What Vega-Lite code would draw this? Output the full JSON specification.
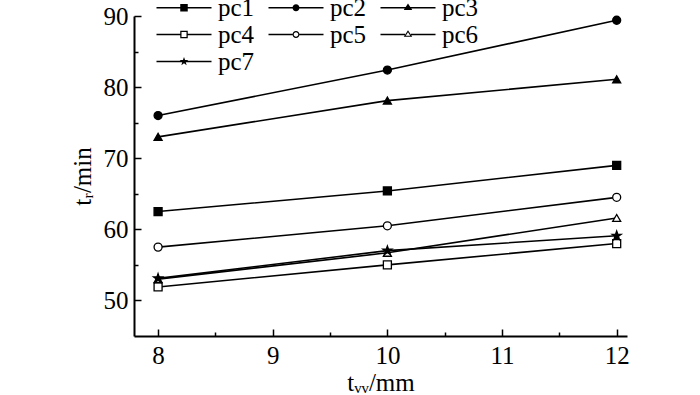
{
  "$schema": "https://vega.github.io/schema/vega-lite/v6.json",
  "width": 493,
  "height": 320,
  "autosize": {"type": "none"},
  "padding": {"left": 134, "top": 16, "right": 73, "bottom": 59},
  "config": {
    "view": {"stroke": null},
    "font": "Liberation Serif",
    "axis": {"grid": false, "domainColor": "black", "domainWidth": 2, "tickColor": "black", "tickWidth": 1.5, "labelColor": "black", "titleColor": "black", "labelFont": "Liberation Serif", "titleFont": "Liberation Serif", "labelFontSize": 25, "titleFontSize": 25, "titleFontWeight": "normal", "labelFlush": false, "labelOverlap": false}
  },
  "data": {
    "values": [
      {"tw": 8, "tr": 62.5, "series": "pc1"}, {"tw": 10, "tr": 65.4, "series": "pc1"}, {"tw": 12, "tr": 69.0, "series": "pc1"},
      {"tw": 8, "tr": 76.0, "series": "pc2"}, {"tw": 10, "tr": 82.4, "series": "pc2"}, {"tw": 12, "tr": 89.4, "series": "pc2"},
      {"tw": 8, "tr": 73.0, "series": "pc3"}, {"tw": 10, "tr": 78.1, "series": "pc3"}, {"tw": 12, "tr": 81.1, "series": "pc3"},
      {"tw": 8, "tr": 51.9, "series": "pc4"}, {"tw": 10, "tr": 55.0, "series": "pc4"}, {"tw": 12, "tr": 58.0, "series": "pc4"},
      {"tw": 8, "tr": 57.5, "series": "pc5"}, {"tw": 10, "tr": 60.5, "series": "pc5"}, {"tw": 12, "tr": 64.5, "series": "pc5"},
      {"tw": 8, "tr": 53.0, "series": "pc6"}, {"tw": 10, "tr": 56.7, "series": "pc6"}, {"tw": 12, "tr": 61.6, "series": "pc6"},
      {"tw": 8, "tr": 53.1, "series": "pc7"}, {"tw": 10, "tr": 57.0, "series": "pc7"}, {"tw": 12, "tr": 59.1, "series": "pc7"}
    ]
  },
  "layer": [
    {
      "mark": {"type": "line", "color": "black", "strokeWidth": 1.6},
      "encoding": {
        "x": {"field": "tw", "type": "quantitative", "scale": {"domain": [7.79, 12.09], "nice": false, "zero": false},
          "axis": {"orient": "bottom", "values": [8, 9, 10, 11, 12], "format": "d", "tickSize": -7, "labelPadding": 14, "title": "tᵥᵥ/mm", "titlePadding": 2}},
        "y": {"field": "tr", "type": "quantitative", "scale": {"domain": [45, 90], "nice": false, "zero": false},
          "axis": {"orient": "left", "values": [50, 60, 70, 80, 90], "format": "d", "tickSize": -7, "labelPadding": 13, "title": "tᵣ/min", "titlePadding": 8}},
        "detail": {"field": "series"}
      }
    },
    {
      "mark": {"type": "point", "stroke": "black", "strokeWidth": 1.3, "opacity": 1, "size": 64},
      "encoding": {
        "x": {"field": "tw", "type": "quantitative", "scale": {"domain": [7.79, 12.09], "nice": false, "zero": false},
          "axis": {"orient": "bottom", "values": [8.5, 9.5, 10.5, 11.5], "tickSize": -4, "labels": false, "domain": false, "title": null}},
        "y": {"field": "tr", "type": "quantitative", "scale": {"domain": [45, 90], "nice": false, "zero": false},
          "axis": {"orient": "left", "values": [55, 65, 75, 85], "tickSize": -4, "labels": false, "domain": false, "title": null}},
        "shape": {"field": "series", "type": "nominal",
          "scale": {"domain": ["pc1", "pc2", "pc3", "pc4", "pc5", "pc6", "pc7"],
            "range": ["square", "circle", "triangle-up", "square", "circle", "triangle-up", "M0,-1.2L0.282,-0.388L1.141,-0.371L0.456,0.148L0.705,0.971L0,0.48L-0.705,0.971L-0.456,0.148L-1.141,-0.371L-0.282,-0.388Z"]},
          "legend": null},
        "fill": {"field": "series", "type": "nominal",
          "scale": {"domain": ["pc1", "pc2", "pc3", "pc4", "pc5", "pc6", "pc7"],
            "range": ["black", "black", "black", "white", "white", "white", "black"]},
          "legend": null}
      }
    },
    {
      "mark": {"type": "point", "stroke": "black", "strokeWidth": 1.5, "size": 0},
      "encoding": {
        "x": {"field": "tw", "type": "quantitative", "scale": {"domain": [7.79, 12.09], "nice": false, "zero": false}, "axis": null},
        "y": {"field": "tr", "type": "quantitative", "scale": {"domain": [45, 90], "nice": false, "zero": false}, "axis": null},
        "fill": {"value": "black"},
        "shape": {"field": "series", "type": "nominal",
          "scale": {"domain": ["pc1", "pc2", "pc3", "pc4", "pc5", "pc6", "pc7"],
            "range": [
              "M-5.5,-0.17H5.5V0.17H-5.5ZM-0.75,-0.75H0.75V0.75H-0.75Z",
              "M-5.5,-0.17H5.5V0.17H-5.5ZM-0.7,0A0.7,0.7,0,1,1,0.7,0A0.7,0.7,0,1,1,-0.7,0Z",
              "M-5.5,-0.17H5.5V0.17H-5.5ZM0,-0.85L0.85,0.45H-0.85Z",
              "M-5.5,-0.17H-0.75V0.17H-5.5ZM0.75,-0.17H5.5V0.17H0.75ZM-0.75,-0.75H0.75V0.75H-0.75ZM-0.5,-0.5V0.5H0.5V-0.5Z",
              "M-5.5,-0.17H-0.7V0.17H-5.5ZM0.7,-0.17H5.5V0.17H0.7ZM-0.7,0A0.7,0.7,0,1,1,0.7,0A0.7,0.7,0,1,1,-0.7,0ZM-0.45,0A0.45,0.45,0,1,0,0.45,0A0.45,0.45,0,1,0,-0.45,0Z",
              "M-5.5,-0.17H-0.6V0.17H-5.5ZM0.6,-0.17H5.5V0.17H0.6ZM0,-0.85L0.85,0.45H-0.85ZM0,-0.45L-0.45,0.25H0.45Z",
              "M-5.5,-0.17H5.5V0.17H-5.5ZM0,-0.9L0.212,-0.291L0.856,-0.278L0.342,0.111L0.529,0.728L0,0.36L-0.529,0.728L-0.342,0.111L-0.856,-0.278L-0.212,-0.291Z"
            ]},
          "legend": {
            "title": null, "orient": "none", "direction": "horizontal", "legendX": 37.5, "legendY": -21, "columns": 3,
            "symbolSize": 100, "symbolStrokeWidth": 0, "symbolOpacity": 1, "symbolFillColor": "black",
            "labelOffset": 21.5, "columnPadding": 14, "rowPadding": 1,
            "labelFont": "Liberation Serif", "labelFontSize": 25, "labelColor": "black",
            "encode": {"symbols": {"fill": {"value": "black"}, "size": {"value": 100}}}
          }
        }
      }
    }
  ],
  "resolve": {"axis": {"x": "independent", "y": "independent"}, "scale": {"shape": "independent"}}
}
